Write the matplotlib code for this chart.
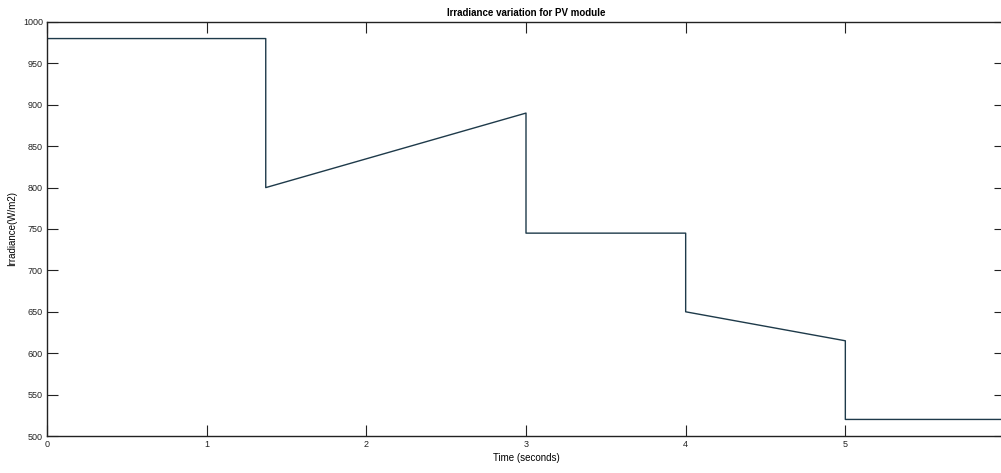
import numpy as np
import matplotlib
matplotlib.use("Agg")
from matplotlib import pyplot as plt

# irradiance profile (time in s, irradiance in W/m2)
time = [0.0, 1.37, 1.37, 3.0, 3.0, 4.0, 4.0, 5.0, 5.0, 6.0]
irradiance = [980, 980, 800, 890, 745, 745, 650, 615, 520, 520]

xticks = [0, 1, 2, 3, 4, 5]
yticks = list(range(500, 1001, 50))

plt.rcParams["font.family"] = ["Liberation Sans", "DejaVu Sans"]

fig = plt.figure(figsize=(10.01, 4.73), dpi=100)
ax = fig.add_axes([47 / 1001, 37 / 473, 958 / 1001, 414 / 473])

ax.plot(time, irradiance, color="#1e3a4a", lw=1.0)

ax.set_xlim(0, 6)
ax.set_ylim(500, 1000)
ax.set_xticks(xticks)
ax.set_yticks(yticks)
ax.tick_params(direction="in", length=8, width=0.8, top=True, right=True,
               labelsize=6.5, pad=3, colors="#222222")
for s in ax.spines.values():
    s.set_linewidth(1.0)
    s.set_color("#222222")

ax.set_title("Irradiance variation for PV module", fontsize=7, fontweight="bold", pad=4)
ax.set_xlabel("Time (seconds)", fontsize=7, labelpad=3)
ax.set_ylabel("Irradiance(W/m2)", fontsize=7, labelpad=4)

fig.savefig("out.png", dpi=100)
